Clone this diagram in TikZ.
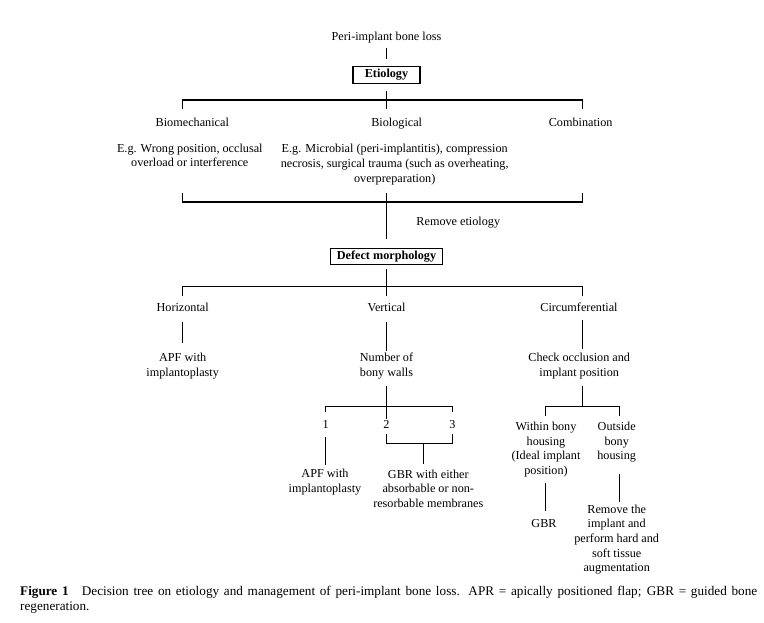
\documentclass[tikz,border=0pt]{standalone}
\usepackage{fontspec}
\setmainfont{Liberation Serif}
\usetikzlibrary{positioning}

\tikzset{
  txt/.style={align=center, inner sep=0pt, font=\fontsize{12.2}{14.7}\selectfont,
    execute at begin node=\strut, execute at end node=\strut},
  hbox/.style={txt, draw, line width=1.2pt, font=\fontsize{12.2}{14.7}\selectfont\bfseries,
    inner xsep=6pt, inner ysep=1pt, minimum height=16.6pt},
  link/.style={line width=1.2pt},
  capt/.style={align=left, inner sep=0pt, font=\fontsize{13.2}{15}\selectfont,
    execute at begin node=\strut}
}

\begin{document}
\begin{tikzpicture}[x=1pt,y=-1pt]
  \useasboundingbox (0,0) rectangle (764,622);
  % etiology
  \node[txt] (peri) at (386.5,38) {Peri-implant bone loss};
  \node[hbox, minimum width=67pt] (etio) at (386.5,75) {Etiology};
  \node[txt] (biomech) at (192.3,123.5) {Biomechanical};
  \node[txt] (biol) at (396.7,123.5) {Biological};
  \node[txt] (combi) at (580.7,123.5) {Combination};
  \node[txt] (egbiomech) at (189.8,157.5) {E.g. Wrong position, occlusal\\overload or interference};
  \node[txt] (egbiol) at (394.7,165.3) {E.g. Microbial (peri-implantitis), compression\\necrosis, surgical trauma (such as overheating,\\overpreparation)};
  \node[txt] (remove) at (458.3,223) {Remove etiology};
  % defect morphology
  \node[hbox] (defect) at (386.5,256.5) {Defect morphology};
  \node[txt] (horiz) at (182.7,308.4) {Horizontal};
  \node[txt] (vert) at (386.5,308.2) {Vertical};
  \node[txt] (circ) at (579,308.4) {Circumferential};
  \node[txt] (apf1) at (182.7,367) {APF with\\implantoplasty};
  \node[txt] (walls) at (386.5,367) {Number of\\bony walls};
  \node[txt] (check) at (579.2,367) {Check occlusion and\\implant position};
  \foreach \n/\x in {1/325.7,2/386.5,3/452.3}
    \node[txt] (n\n) at (\x,425.7) {\n};
  \node[txt] (apf2) at (325,483.2) {APF with\\implantoplasty};
  \node[txt] (gbrm) at (428.3,490.7) {GBR with either\\absorbable or non-\\resorbable membranes};
  \node[txt] (within) at (546,450.4) {Within bony\\housing\\(Ideal implant\\position)};
  \node[txt] (outside) at (616.7,443) {Outside\\bony\\housing};
  \node[txt] (gbr) at (544,524.7) {GBR};
  \node[txt] (removeimp) at (616.7,540.4) {Remove the\\implant and\\perform hard and\\soft tissue\\augmentation};

  % forks
  \coordinate (f1l) at (182.7,109.3);
  \coordinate (f1r) at (582.3,109.3);
  \coordinate (f1m) at (386.5,100);
  \coordinate (f1c) at (386.5,109.3);
  \coordinate (f2l) at (182.7,193);
  \coordinate (f2r) at (582.3,193);
  \coordinate (f2m) at (386.5,202);
  \coordinate (f2c) at (386.5,193);
  \coordinate (f3l) at (182.7,295.5);
  \coordinate (f3r) at (582.3,295.5);
  \coordinate (f3m) at (386.5,286.7);
  \coordinate (f3c) at (386.5,296);
  \coordinate (f4l) at (325.7,412.3);
  \coordinate (f4r) at (452.3,412.3);
  \coordinate (f4m) at (386.5,406.7);
  \coordinate (f4c) at (386.5,419);
  \coordinate (f5l) at (386.5,434);
  \coordinate (f5r) at (452.3,434);
  \coordinate (f5m) at (423.3,443.3);
  \coordinate (f6l) at (545.3,415.7);
  \coordinate (f6r) at (619.3,415.7);
  \coordinate (f6c) at (582.3,406.7);

  % connectors
  \draw[link, shorten <=2.5pt, shorten >=7.4pt] (peri) -- (etio);
  \draw[link, shorten <=7.4pt] (etio) -- (f1c);
  \draw[link] (f1l) |- (f1m) -| (f1r);
  \draw[link] (f2l) |- (f2m) -| (f2r);
  \draw[link, shorten >=9pt] (f2c) -- (defect);
  \draw[link, shorten <=3.7pt] (defect) -- (f3c);
  \draw[link] (f3l) |- (f3m) -| (f3r);
  \draw[link, shorten <=6pt, shorten >=10pt] (horiz) -- (apf1);
  \draw[link, shorten <=6.3pt, shorten >=2.3pt] (vert) -- (walls);
  \draw[link, shorten <=3.7pt, shorten >=4pt] (circ.south -| f3r) -- (check.north -| f3r);
  \draw[link, shorten <=5.4pt] (walls) -- (f4c);
  \draw[link] (f4l) |- (f4m) -| (f4r);
  \draw[link, shorten <=3.7pt, shorten >=4pt] (n1) -- (n1 |- apf2.north);
  \draw[link] (f5l) |- (f5m) -| (f5r);
  \draw[link, shorten >=5.6pt] (f5m) -- (f5m |- gbrm.north);
  \draw[link, shorten <=5.4pt] (check.south -| f6c) -- (f6c);
  \draw[link] (f6l) |- (f6c) -| (f6r);
  \draw[link, shorten <=3.7pt, shorten >=6.2pt] (within.south -| f6l) -- (gbr.north -| f6l);
  \draw[link, shorten <=9.4pt, shorten >=1.9pt] (outside.south -| f6r) -- (removeimp.north -| f6r);

  % caption
  \node[capt, anchor=north west] (caption) at (20,586)
    {\makebox[737pt][s]{\textbf{Figure 1}\quad Decision tree on etiology and management of peri-implant bone loss. APR = apically positioned flap; GBR = guided bone}\\regeneration.};
\end{tikzpicture}
\end{document}
